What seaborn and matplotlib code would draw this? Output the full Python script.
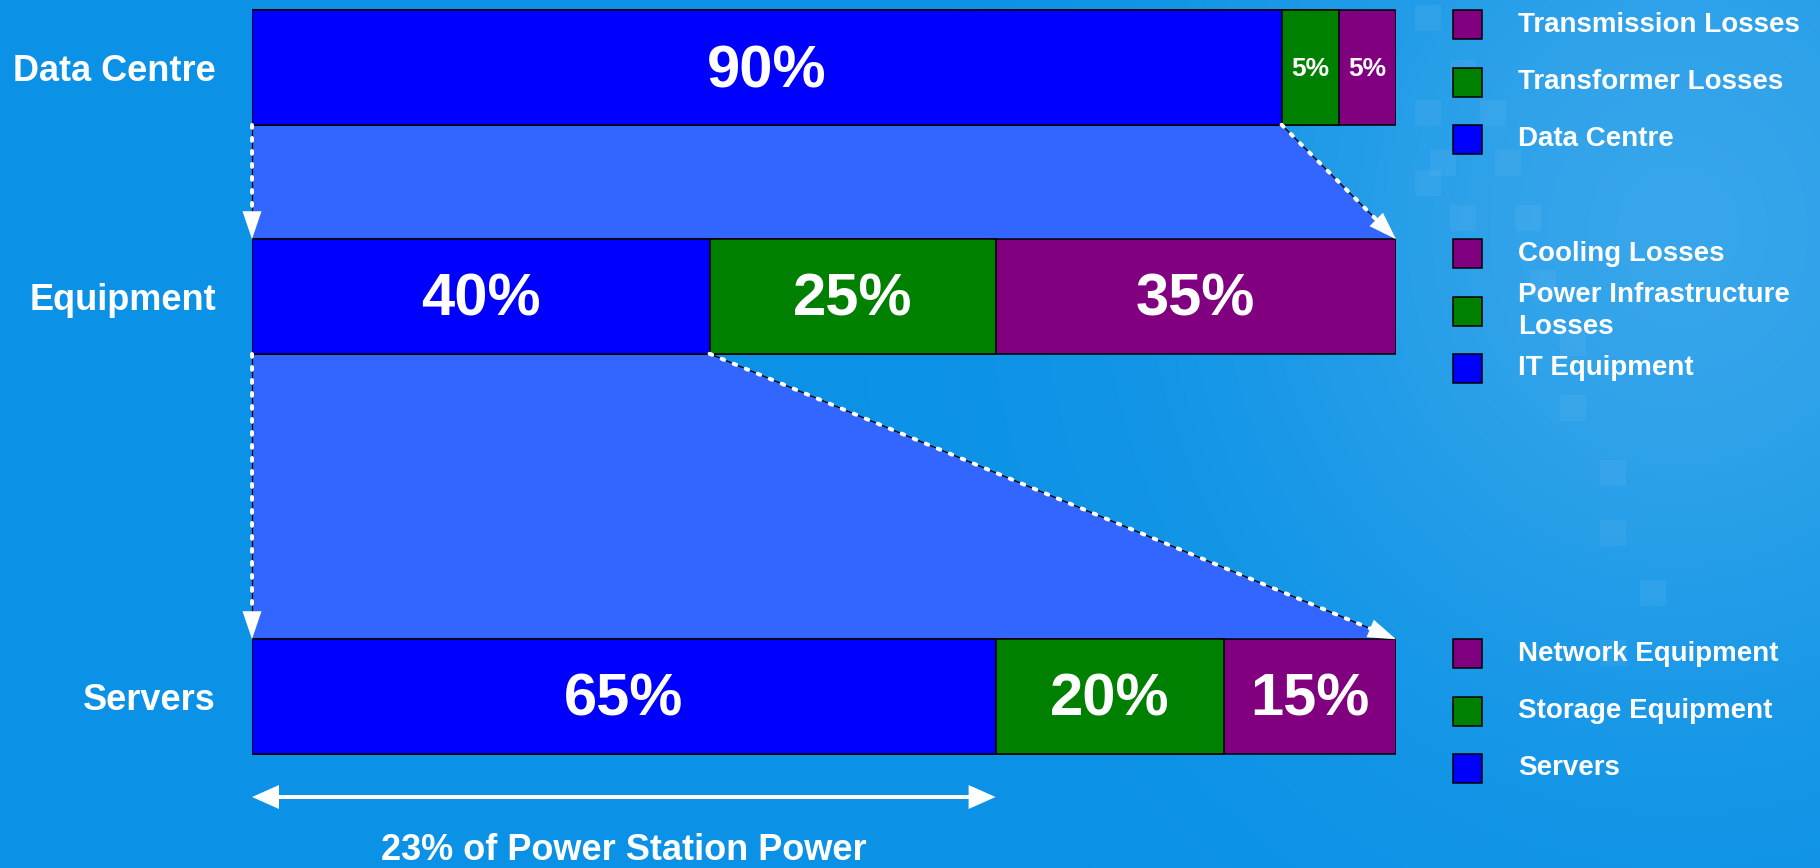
import numpy as np
import pandas as pd
import matplotlib
matplotlib.use("Agg")
import matplotlib.pyplot as plt
from matplotlib.patches import Polygon, Rectangle
import seaborn as sns

# ---------------- data ----------------
rows = ["Data Centre", "Equipment", "Servers"]
seg_main = [90, 40, 65]      # blue segment (carried to next row)
seg_mid = [5, 25, 20]        # green segment
seg_last = [5, 35, 15]       # purple segment
legend_main = ["Data Centre", "IT Equipment", "Servers"]
legend_mid = ["Transformer Losses", "Power Infrastructure\nLosses", "Storage Equipment"]
legend_last = ["Transmission Losses", "Cooling Losses", "Network Equipment"]
footnote = "23% of Power Station Power"

# ---------------- style / layout ----------------
W, H = 1820, 868
DPI = 100
row_y = np.array([67.5, 296.5, 696.5])   # row centres in pixel layout units
bar_h = 114.5
c_main, c_mid, c_last = "#0000FF", "#008000", "#800080"
c_link = "#3366FF"
bg = np.array([11, 146, 230]) / 255.0

sns.set_theme(style="white")
plt.rcParams["font.family"] = ["Liberation Sans", "DejaVu Sans"]
plt.rcParams["font.weight"] = "bold"

fig = plt.figure(figsize=(W / DPI, H / DPI), dpi=DPI)

# background with soft glow at right
bax = fig.add_axes([0, 0, 1, 1], zorder=-10)
gx, gy = np.meshgrid(np.linspace(0, W, 455), np.linspace(0, H, 217))
glow = np.exp(-(((gx - 1680) / 300.0) ** 2 + ((gy - 230) / 330.0) ** 2) / 2)
img = bg[None, None, :] + (1 - bg[None, None, :]) * 0.18 * glow[..., None]
bax.imshow(np.clip(img, 0, 1), extent=(0, W, H, 0), aspect="auto", interpolation="bilinear")
# faint square texture behind the legend
for (sx, sy) in [(1415, 5), (1450, 60), (1415, 100), (1480, 100), (1415, 170), (1450, 205),
                 (1515, 205), (1530, 270), (1560, 330), (1560, 395), (1600, 460), (1600, 520),
                 (1640, 580), (1600, 640), (1430, 150), (1495, 150)]:
    bax.add_patch(Rectangle((sx, sy), 26, 26, fc="white", ec="none", alpha=0.05))
bax.set_xlim(0, W)
bax.set_ylim(H, 0)
bax.axis("off")

# main axes: x in percent across the bar span, y in pixel layout units
x0_px, x1_px = 252, 1396
ax = fig.add_axes([x0_px / W, 0, (x1_px - x0_px) / W, 1])
ax.patch.set_alpha(0)

main = np.array(seg_main)
mid = np.array(seg_mid)
last = np.array(seg_last)
ends = [main + mid + last, main + mid, main]
colors = [c_last, c_mid, c_main]
width_factor = bar_h / np.min(np.diff(row_y))
for e, c in zip(ends, colors):
    df = pd.DataFrame({"end": e, "ypos": row_y})
    sns.barplot(data=df, x="end", y="ypos", orient="y", native_scale=True,
                width=width_factor, color=c, saturation=1, edgecolor="black",
                linewidth=1.1, errorbar=None, ax=ax, zorder=3)

ax.set_xlim(0, 100)
ax.set_ylim(H, 0)
ax.set_xlabel("")
ax.set_ylabel("")
ax.set_xticks([])
ax.set_yticks(row_y)
ax.set_yticklabels(rows, fontsize=26, fontweight="bold", color="white")
ax.tick_params(axis="y", length=0, pad=26)
for s in ax.spines.values():
    s.set_visible(False)

tops = row_y - bar_h / 2
bots = row_y + bar_h / 2

# connector areas
for i in range(len(rows) - 1):
    ax.fill([0, main[i], 100, 0], [bots[i], bots[i], tops[i + 1], tops[i + 1]],
            color=c_link, lw=0, zorder=1)

# segment labels
for i in range(len(rows)):
    starts = [0, main[i], main[i] + mid[i]]
    for st, v in zip(starts, [main[i], mid[i], last[i]]):
        fs = 19 if v < 10 else 43
        ax.text(st + v / 2, row_y[i] + (1 if v < 10 else 4), f"{v}%", ha="center", va="center",
                fontsize=fs, fontweight="bold", color="white", zorder=5)


def arrow(ax, xa, ya, xb, yb, dashed=True, both=False, lw_px=4.0, hl=28, hw=9.5):
    T = ax.transData
    inv = T.inverted()
    p0 = np.array(T.transform((xa, ya)))
    p1 = np.array(T.transform((xb, yb)))
    d = p1 - p0
    u = d / np.hypot(*d)
    n = np.array([-u[1], u[0]])
    b1 = p1 - u * hl
    b0 = p0 + u * hl if both else p0
    seg = inv.transform(np.array([b0, b1]))
    lw = lw_px * 72 / DPI
    if dashed:
        ax.plot(seg[:, 0], seg[:, 1], color="black", lw=0.9, clip_on=False, zorder=6,
                solid_capstyle="butt")
        ax.plot(seg[:, 0], seg[:, 1], color="white", lw=lw, ls=(0, (0.7, 2.55)),
                dash_capstyle="round", clip_on=False, zorder=7)
    else:
        ax.plot(seg[:, 0], seg[:, 1], color="white", lw=lw, clip_on=False, zorder=7,
                solid_capstyle="butt")
    heads = [(p1, b1)] + ([(p0, b0)] if both else [])
    for tip, base in heads:
        tri = inv.transform(np.array([tip, base + n * hw, base - n * hw]))
        ax.add_patch(Polygon(tri, closed=True, fc="white", ec="none", clip_on=False, zorder=8))


for i in range(len(rows) - 1):
    arrow(ax, 0, bots[i], 0, tops[i + 1])
    arrow(ax, main[i], bots[i], 100, tops[i + 1])

# bottom double arrow spanning the final blue segment
arrow_y = 797
arrow(ax, 0, arrow_y, main[-1], arrow_y, dashed=False, both=True, lw_px=4.0, hl=27, hw=12)
ax.text(main[-1] / 2, 860, footnote, ha="center", va="baseline", fontsize=26,
        fontweight="bold", color="white", clip_on=False)

# legends, one block per row
lax = fig.add_axes([0, 0, 1, 1], zorder=5)
lax.set_xlim(0, W)
lax.set_ylim(H, 0)
lax.axis("off")
sq = 29
sq_x, txt_x = 1453, 1518
for i in range(len(rows)):
    items = [(legend_last[i], c_last), (legend_mid[i], c_mid), (legend_main[i], c_main)]
    for k, (lab, c) in enumerate(items):
        top = tops[i] + k * bar_h / 2
        lax.add_patch(Rectangle((sq_x, top), sq, sq, fc=c, ec="black", lw=1.1))
        lax.text(txt_x, top + sq / 2, lab, ha="left", va="center", fontsize=20,
                 fontweight="bold", color="white", linespacing=1.3)

fig.savefig("out.png", dpi=DPI, facecolor=bg)
